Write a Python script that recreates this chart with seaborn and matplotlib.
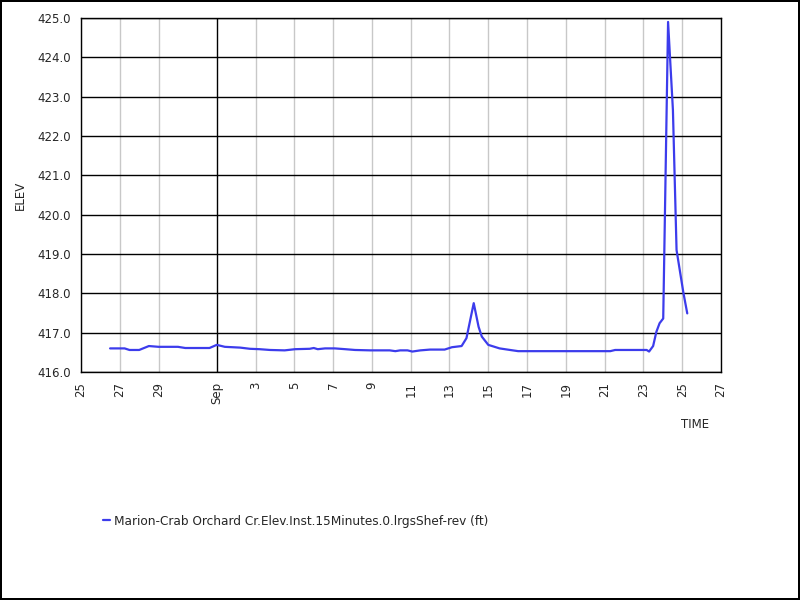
#!/usr/bin/env python3
"""Marion-Crab Orchard Cr. elevation, Aug-Sep 15 minute instantaneous series."""

import matplotlib
matplotlib.use("Agg")

import matplotlib.pyplot as plt
import pandas as pd
import seaborn as sns
from matplotlib.ticker import FormatStrFormatter

SERIES_NAME = "Marion-Crab Orchard Cr.Elev.Inst.15Minutes.0.lrgsShef-rev (ft)"

times = [
    "2023-08-26 12:00", "2023-08-27 06:00", "2023-08-27 12:00", "2023-08-28 00:00",
    "2023-08-28 12:00", "2023-08-29 00:00", "2023-08-30 00:00", "2023-08-30 09:00",
    "2023-08-31 15:00", "2023-09-01 00:00", "2023-09-01 10:00", "2023-09-02 05:00",
    "2023-09-02 17:00", "2023-09-03 05:00", "2023-09-03 18:00", "2023-09-04 12:00",
    "2023-09-05 01:00", "2023-09-05 19:00", "2023-09-06 00:00", "2023-09-06 05:00",
    "2023-09-06 14:00", "2023-09-07 02:00", "2023-09-07 15:00", "2023-09-08 03:00",
    "2023-09-08 22:00", "2023-09-09 22:00", "2023-09-10 05:00", "2023-09-10 11:00",
    "2023-09-10 20:00", "2023-09-11 02:00", "2023-09-11 12:00", "2023-09-12 00:00",
    "2023-09-12 18:00", "2023-09-13 03:00", "2023-09-13 15:00", "2023-09-13 21:00",
    "2023-09-14 06:00", "2023-09-14 12:00", "2023-09-14 16:00", "2023-09-15 00:00",
    "2023-09-15 14:00", "2023-09-16 03:00", "2023-09-16 13:00", "2023-09-21 07:00",
    "2023-09-21 13:00", "2023-09-23 04:00", "2023-09-23 07:00", "2023-09-23 12:00",
    "2023-09-23 16:00", "2023-09-23 20:00", "2023-09-24 00:30", "2023-09-24 06:30",
    "2023-09-24 12:30", "2023-09-24 17:00", "2023-09-25 01:30", "2023-09-25 06:15",
]
elev = [
    416.60, 416.60, 416.56, 416.56,
    416.66, 416.64, 416.64, 416.61,
    416.61, 416.69, 416.64, 416.62,
    416.59, 416.58, 416.56, 416.55,
    416.58, 416.59, 416.61, 416.58,
    416.60, 416.60, 416.58, 416.56,
    416.55, 416.55, 416.53, 416.55,
    416.55, 416.52, 416.55, 416.57,
    416.57, 416.63, 416.66, 416.86,
    417.75, 417.15, 416.90, 416.69,
    416.60, 416.56, 416.53, 416.53,
    416.56, 416.56, 416.52, 416.66,
    417.02, 417.24, 417.36, 424.90,
    422.66, 419.10, 418.01, 417.49,
]

tick_dates = [
    "2023-08-25", "2023-08-27", "2023-08-29", "2023-09-01", "2023-09-03",
    "2023-09-05", "2023-09-07", "2023-09-09", "2023-09-11", "2023-09-13",
    "2023-09-15", "2023-09-17", "2023-09-19", "2023-09-21", "2023-09-23",
    "2023-09-25", "2023-09-27",
]
tick_labels = [
    "25", "27", "29", "Sep", "3", "5", "7", "9", "11", "13",
    "15", "17", "19", "21", "23", "25", "27",
]
y_ticks = [416, 417, 418, 419, 420, 421, 422, 423, 424, 425]

df = pd.DataFrame({"TIME": pd.to_datetime(times), "ELEV": elev})

sns.set_style("white")
plt.rcParams["font.family"] = ["DejaVu Sans"]

fig = plt.figure(figsize=(8, 6), dpi=100)
ax = fig.add_axes([81 / 800, 1 - 372 / 600, 640 / 800, 354 / 600])

sns.lineplot(data=df, x="TIME", y="ELEV", ax=ax, color="#3c3cec",
             linewidth=1.6, label=SERIES_NAME, legend=False)

ax.set_xlim(pd.Timestamp(tick_dates[0]), pd.Timestamp(tick_dates[-1]))
ax.set_ylim(y_ticks[0], y_ticks[-1])
ax.set_xticks(pd.to_datetime(tick_dates))
ax.set_xticklabels(tick_labels, rotation=90, fontsize=8.5)
ax.set_yticks(y_ticks)
ax.yaxis.set_major_formatter(FormatStrFormatter("%.1f"))
ax.tick_params(axis="y", labelsize=8.5, length=5, width=1, color="black", pad=2)
ax.tick_params(axis="x", length=4, width=1, color="black", pad=3)
ax.set_xlabel("")
ax.set_ylabel("")

# grid: black horizontals, gray verticals, month boundary in black
ax.yaxis.grid(True, color="black", linewidth=1)
ax.xaxis.grid(True, color="#c8c8c8", linewidth=1)
for lab, gl in zip(tick_labels, ax.get_xgridlines()):
    if lab == "Sep":
        gl.set_color("black")
ax.set_axisbelow(True)
for sp in ax.spines.values():
    sp.set_color("black")
    sp.set_linewidth(1)

fig.text(20 / 800, 1 - 195 / 600, "ELEV", rotation=90, ha="center", va="center", fontsize=8.5)
fig.text(695 / 800, 1 - 424 / 600, "TIME", ha="center", va="center", fontsize=8.5)

handles, labels = ax.get_legend_handles_labels()
fig.legend(handles, labels, loc="center left", bbox_to_anchor=(92 / 800, 1 - 521 / 600),
           frameon=False, fontsize=8.7, handlelength=0.6, handletextpad=0.3)

fig.patch.set_edgecolor("black")
fig.patch.set_linewidth(1.5)
fig.savefig("out.png", dpi=100, edgecolor=fig.get_edgecolor())
